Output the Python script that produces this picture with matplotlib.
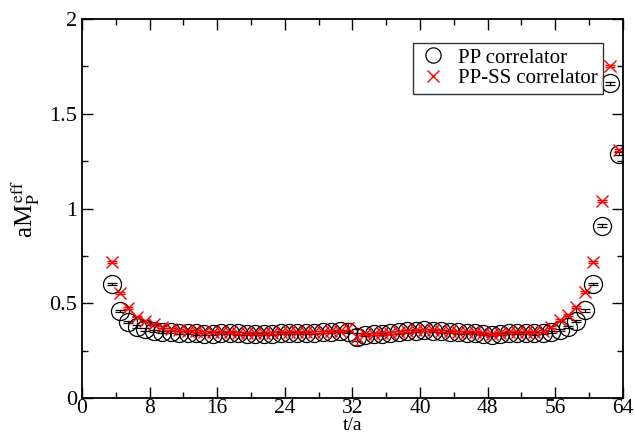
import numpy as np
import matplotlib
matplotlib.use("Agg")
import matplotlib.pyplot as plt
from matplotlib.lines import Line2D
from matplotlib.ticker import MultipleLocator

plt.rcParams['font.family'] = ['Liberation Serif', 'DejaVu Serif']
plt.rcParams['mathtext.fontset'] = 'stix'

# effective mass at half-integer time slices t/a = 3.5 ... 63.5
t = np.arange(3.5, 64.0, 1.0)

pp = [0.600, 0.460, 0.400, 0.377, 0.362, 0.355, 0.350, 0.347, 0.345, 0.343,
      0.341, 0.339, 0.340, 0.342, 0.343, 0.341, 0.339, 0.338, 0.338, 0.340,
      0.342, 0.343, 0.343, 0.344, 0.345, 0.347, 0.349, 0.352, 0.348, 0.322,
      0.334, 0.337, 0.339, 0.342, 0.346, 0.351, 0.355, 0.357, 0.355, 0.351,
      0.348, 0.346, 0.344, 0.342, 0.338, 0.332, 0.338, 0.342, 0.343, 0.342,
      0.341, 0.343, 0.348, 0.358, 0.375, 0.405, 0.462, 0.600, 0.910, 1.660,
      1.290]
pp_err = [0.006] * len(pp)
pp_err[29] = 0.02

ppss = [0.720, 0.553, 0.475, 0.430, 0.405, 0.388, 0.375, 0.366, 0.360, 0.356,
        0.352, 0.349, 0.348, 0.348, 0.347, 0.345, 0.343, 0.342, 0.343, 0.345,
        0.346, 0.347, 0.347, 0.348, 0.349, 0.350, 0.352, 0.356, 0.372, 0.322,
        0.338, 0.340, 0.342, 0.345, 0.349, 0.354, 0.358, 0.360, 0.358, 0.355,
        0.352, 0.350, 0.349, 0.347, 0.344, 0.340, 0.344, 0.348, 0.349, 0.349,
        0.350, 0.355, 0.375, 0.410, 0.440, 0.480, 0.560, 0.720, 1.040, 1.750,
        1.310]
ppss_err = [0.005] * len(ppss)
ppss_err[28] = 0.025
ppss_err[29] = 0.04

fig = plt.figure(figsize=(6.35, 4.38), dpi=100)
ax = fig.add_axes([0.129, 0.0913, 0.852, 0.8653])

ax.errorbar(t, pp, yerr=pp_err, fmt='o', mfc='none', mec='black', ms=13,
            mew=0.9, ecolor='black', elinewidth=0.9, capsize=3.5, capthick=0.9)
ax.errorbar(t, ppss, yerr=ppss_err, fmt='x', color='red', ms=8, mew=1.0,
            ecolor='red', elinewidth=0.9, capsize=3.5, capthick=0.9)

ax.set_xlim(0, 64)
ax.set_ylim(0, 2)
ax.xaxis.set_major_locator(MultipleLocator(8))
ax.xaxis.set_minor_locator(MultipleLocator(4))
ax.yaxis.set_minor_locator(MultipleLocator(0.25))
ax.set_yticks([0, 0.5, 1, 1.5, 2], ['0', '0.5', '1', '1.5', '2'])
ax.tick_params(which='both', direction='in', top=True, right=True,
               labelsize=16, width=1)
ax.tick_params(which='major', length=8)
ax.tick_params(which='minor', length=4)
ax.tick_params(axis='x', which='both', pad=1, labelsize=15.5)
for s in ax.spines.values():
    s.set_linewidth(1.3)

ax.set_xlabel('t/a', fontsize=14, labelpad=-1)
ax.set_ylabel(r'aM$_\mathrm{P}^{\,\mathrm{eff}}$', fontsize=18, labelpad=6)

handles = [Line2D([], [], ls='none', marker='o', mfc='none', mec='black',
                  ms=11, mew=0.9),
           Line2D([], [], ls='none', marker='x', color='red', ms=8, mew=1.0)]
leg = ax.legend(handles, ['PP correlator', 'PP-SS correlator'],
                loc='upper right', bbox_to_anchor=(0.963, 0.937),
                fontsize=15, frameon=True, fancybox=False, edgecolor='black',
                borderpad=0.25, handletextpad=0.5, labelspacing=0.05,
                handlelength=1.4, borderaxespad=0)
leg.get_frame().set_linewidth(1.0)

fig.savefig('out.png', dpi=100)
